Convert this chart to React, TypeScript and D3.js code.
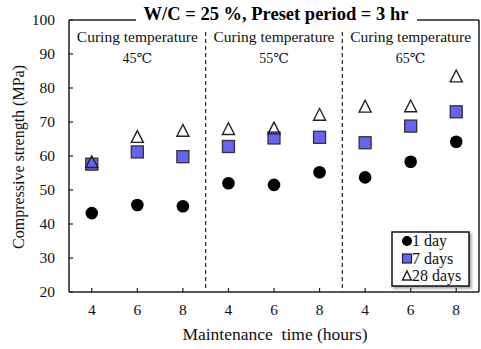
import React from "react";
import * as d3 from "d3";

// Maintenance times, repeated for each curing temperature
const hours = ["4", "6", "8"];
const curingTemps = ["45℃", "55℃", "65℃"];

// Compressive strength (MPa), in order 45℃(4,6,8), 55℃(4,6,8), 65℃(4,6,8)
const day1 = [43.2, 45.6, 45.2, 52.0, 51.5, 55.2, 53.7, 58.3, 64.2];
const day7 = [57.6, 61.2, 59.8, 62.8, 65.3, 65.5, 63.9, 68.8, 73.0];
const day28 = [58.2, 65.6, 67.4, 67.9, 68.1, 72.1, 74.5, 74.6, 83.4];

const yTicks = [20, 30, 40, 50, 60, 70, 80, 90, 100];

const W = 481;
const H = 349;
const M = { left: 69, right: 479, top: 20, bottom: 292 };
const FONT = '"Liberation Serif", "Times New Roman", Tinos, "DejaVu Serif", serif';

const categories = curingTemps.flatMap((t, gi) => hours.map((h) => `${gi}-${h}`));

export default function App() {
  const x = d3.scaleBand().domain(categories).range([M.left, M.right]).padding(0);
  const y = d3.scaleLinear().domain([20, 100]).range([M.bottom, M.top]);
  const cx = (i: number) => (x(categories[i]) as number) + x.bandwidth() / 2;

  const triPath = (s: number) => {
    const h = s * 0.9;
    return `M0,${-h / 2 - 1}L${s / 2},${h / 2}L${-s / 2},${h / 2}Z`;
  };

  const groupCenter = (g: number) =>
    ((x(categories[g * 3]) as number) + (x(categories[g * 3 + 2]) as number) + x.bandwidth()) / 2;
  const separator = (g: number) => x(categories[g * 3]) as number;

  return (
    <svg
      width={W}
      height={H}
      style={{ position: "absolute", left: 0, top: 0, background: "#fff", fontFamily: FONT }}
    >
      <defs>
        <filter id="shadow" x="-10%" y="-10%" width="130%" height="130%">
          <feDropShadow dx="2" dy="2" stdDeviation="1" floodColor="#000" floodOpacity="0.35" />
        </filter>
      </defs>

      {/* frame */}
      <line x1={M.left} x2={M.left} y1={M.top} y2={M.bottom} stroke="#222" strokeWidth={1.5} />
      <line x1={M.left} x2={M.right} y1={M.bottom} y2={M.bottom} stroke="#222" strokeWidth={1.5} />
      <line x1={M.right} x2={M.right} y1={M.top} y2={M.bottom} stroke="#222" strokeWidth={1.5} />
      <line x1={M.left} x2={136} y1={M.top} y2={M.top} stroke="#222" strokeWidth={1.5} />
      <line x1={417} x2={M.right} y1={M.top} y2={M.top} stroke="#222" strokeWidth={1.5} />

      {/* title */}
      <text x={276} y={20} textAnchor="middle" fontSize={18.5} fontWeight="bold" fill="#000">
        W/C = 25 %, Preset period = 3 hr
      </text>

      {/* y axis */}
      {yTicks.map((t) => (
        <g key={t}>
          <line x1={M.left} x2={M.left + 4} y1={y(t)} y2={y(t)} stroke="#222" strokeWidth={1.2} />
          <text x={55} y={y(t) + 5} textAnchor="end" fontSize={15.5} fill="#111">
            {t}
          </text>
        </g>
      ))}
      <text
        transform={`translate(24,157) rotate(-90)`}
        textAnchor="middle"
        fontSize={16}
        fill="#111"
      >
        Compressive strength (MPa)
      </text>

      {/* x axis */}
      {categories.map((c, i) => (
        <g key={c}>
          <line x1={cx(i)} x2={cx(i)} y1={M.bottom} y2={M.bottom - 4} stroke="#222" strokeWidth={1.2} />
          <text x={cx(i)} y={315} textAnchor="middle" fontSize={15.5} fill="#111">
            {hours[i % 3]}
          </text>
        </g>
      ))}
      <text x={275} y={340} textAnchor="middle" fontSize={17.5} fill="#111" style={{ whiteSpace: "pre" }}>
        {"Maintenance  time (hours)"}
      </text>

      {/* group separators */}
      {[1, 2].map((g) => (
        <line
          key={g}
          x1={separator(g)}
          x2={separator(g)}
          y1={32}
          y2={M.bottom}
          stroke="#333"
          strokeWidth={1.3}
          strokeDasharray="4,3"
        />
      ))}

      {/* curing temperature labels */}
      {curingTemps.map((t, g) => (
        <g key={t}>
          <text x={groupCenter(g)} y={42} textAnchor="middle" fontSize={15.5} fill="#111">
            Curing temperature
          </text>
          <text x={groupCenter(g)} y={63} textAnchor="middle" fontSize={14} fill="#111">
            {t}
          </text>
        </g>
      ))}

      {/* 1 day */}
      {day1.map((v, i) => (
        <circle key={`d1-${i}`} cx={cx(i)} cy={y(v)} r={6.3} fill="#000" />
      ))}
      {/* 7 days */}
      {day7.map((v, i) => (
        <rect
          key={`d7-${i}`}
          x={cx(i) - 6}
          y={y(v) - 6}
          width={12}
          height={12}
          fill="#6464f5"
          stroke="#333"
          strokeWidth={1.3}
        />
      ))}
      {/* 28 days */}
      {day28.map((v, i) => (
        <path
          key={`d28-${i}`}
          d={triPath(12)}
          transform={`translate(${cx(i)},${y(v)})`}
          fill="none"
          stroke="#222"
          strokeWidth={1.4}
        />
      ))}

      {/* legend */}
      <g>
        <rect x={392} y={232} width={77} height={54} fill="#fff" stroke="#111" strokeWidth={1.5} filter="url(#shadow)" />
        <circle cx={407} cy={241} r={5} fill="#000" />
        <text x={412} y={246} fontSize={16} fill="#111">1 day</text>
        <rect x={402.5} y={254} width={9} height={9} fill="#6464f5" stroke="#222" strokeWidth={1.2} />
        <text x={412} y={264} fontSize={16} fill="#111">7 days</text>
        <path d={triPath(9)} transform="translate(407,276)" fill="none" stroke="#222" strokeWidth={1.4} />
        <text x={412} y={281} fontSize={16} fill="#111">28 days</text>
      </g>
    </svg>
  );
}
